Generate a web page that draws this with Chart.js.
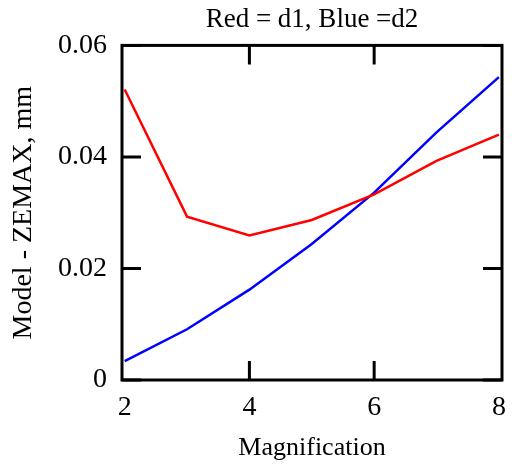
<!DOCTYPE html>
<html lang="en">
<head>
<meta charset="UTF-8">
<title>Model - ZEMAX</title>
<script src="https://cdn.jsdelivr.net/npm/chart.js"></script>
<style>
  body { margin: 0; padding: 0; background: #fff; }
  #wrap { width: 517px; height: 464px; }
</style>
</head>
<body>
<div id="wrap"><canvas id="chart" width="517" height="464"></canvas></div>
<script>
  // values
  const magnification = [2, 3, 4, 5, 6, 7, 8];
  const d1 = [0.0521, 0.0293, 0.0259, 0.0287, 0.0333, 0.0393, 0.0440]; // red
  const d2 = [0.0034, 0.0091, 0.0162, 0.0244, 0.0336, 0.0444, 0.0543]; // blue
  const xTicks = [2, 4, 6, 8];
  const yTicks = [0, 0.02, 0.04, 0.06];

  const serif = 'Liberation Serif, Times New Roman, serif';

  // inward tick marks on all four sides + closed frame
  const frame = {
    id: 'frame',
    afterDatasetsDraw(chart) {
      const { ctx, chartArea: a, scales } = chart;
      const len = 19;
      ctx.save();
      ctx.strokeStyle = '#000';
      ctx.lineWidth = 3;
      ctx.strokeRect(a.left, a.top, a.right - a.left, a.bottom - a.top);
      ctx.beginPath();
      xTicks.forEach(v => {
        const px = scales.x.getPixelForValue(v);
        if (px - a.left < 4 || a.right - px < 4) return;
        ctx.moveTo(px, a.bottom); ctx.lineTo(px, a.bottom - len);
        ctx.moveTo(px, a.top); ctx.lineTo(px, a.top + len);
      });
      yTicks.forEach(v => {
        const py = scales.y.getPixelForValue(v);
        ctx.moveTo(a.left, py); ctx.lineTo(a.left + len, py);
        ctx.moveTo(a.right, py); ctx.lineTo(a.right - len, py);
      });
      ctx.stroke();
      ctx.restore();
    }
  };

  new Chart(document.getElementById('chart'), {
    type: 'line',
    data: {
      datasets: [{
        label: 'd1',
        data: magnification.map((m, i) => ({ x: m, y: d1[i] })),
        borderColor: '#ff0000',
        borderWidth: 2.5,
        pointRadius: 0,
        tension: 0
      }, {
        label: 'd2',
        data: magnification.map((m, i) => ({ x: m, y: d2[i] })),
        borderColor: '#0000ff',
        borderWidth: 2.5,
        pointRadius: 0,
        tension: 0
      }]
    },
    options: {
      responsive: false,
      animation: false,
      layout: { padding: { left: 7, right: 13, top: 4, bottom: 0 } },
      plugins: {
        legend: { display: false },
        tooltip: { enabled: false },
        title: {
          display: true,
          fullSize: false,
          text: 'Red = d1, Blue =d2',
          color: '#000',
          font: { family: serif, size: 27, weight: 'normal' },
          padding: { top: 0, bottom: 9 }
        }
      },
      scales: {
        x: {
          type: 'linear',
          min: 1.957,
          max: 8.05,
          afterBuildTicks: s => { s.ticks = xTicks.map(v => ({ value: v })); },
          afterFit: s => { s.height = 84; },
          grid: { display: false, drawTicks: false },
          border: { display: false },
          ticks: {
            color: '#000',
            padding: 11,
            font: { family: serif, size: 28 },
            callback: v => String(v)
          },
          title: {
            display: true,
            text: 'Magnification',
            color: '#000',
            font: { family: serif, size: 26 },
            padding: { top: 8, bottom: 0 }
          }
        },
        y: {
          min: 0,
          max: 0.06,
          afterBuildTicks: s => { s.ticks = yTicks.map(v => ({ value: v })); },
          afterFit: s => { s.width = 115; },
          grid: { display: false, drawTicks: false },
          border: { display: false },
          ticks: {
            color: '#000',
            padding: 15,
            font: { family: serif, size: 28 },
            callback: v => v === 0 ? '0' : v.toFixed(2)
          },
          title: {
            display: true,
            text: 'Model - ZEMAX, mm',
            color: '#000',
            font: { family: serif, size: 28 },
            padding: { top: 0, bottom: 2 }
          }
        }
      }
    },
    plugins: [frame]
  });
</script>
</body>
</html>
